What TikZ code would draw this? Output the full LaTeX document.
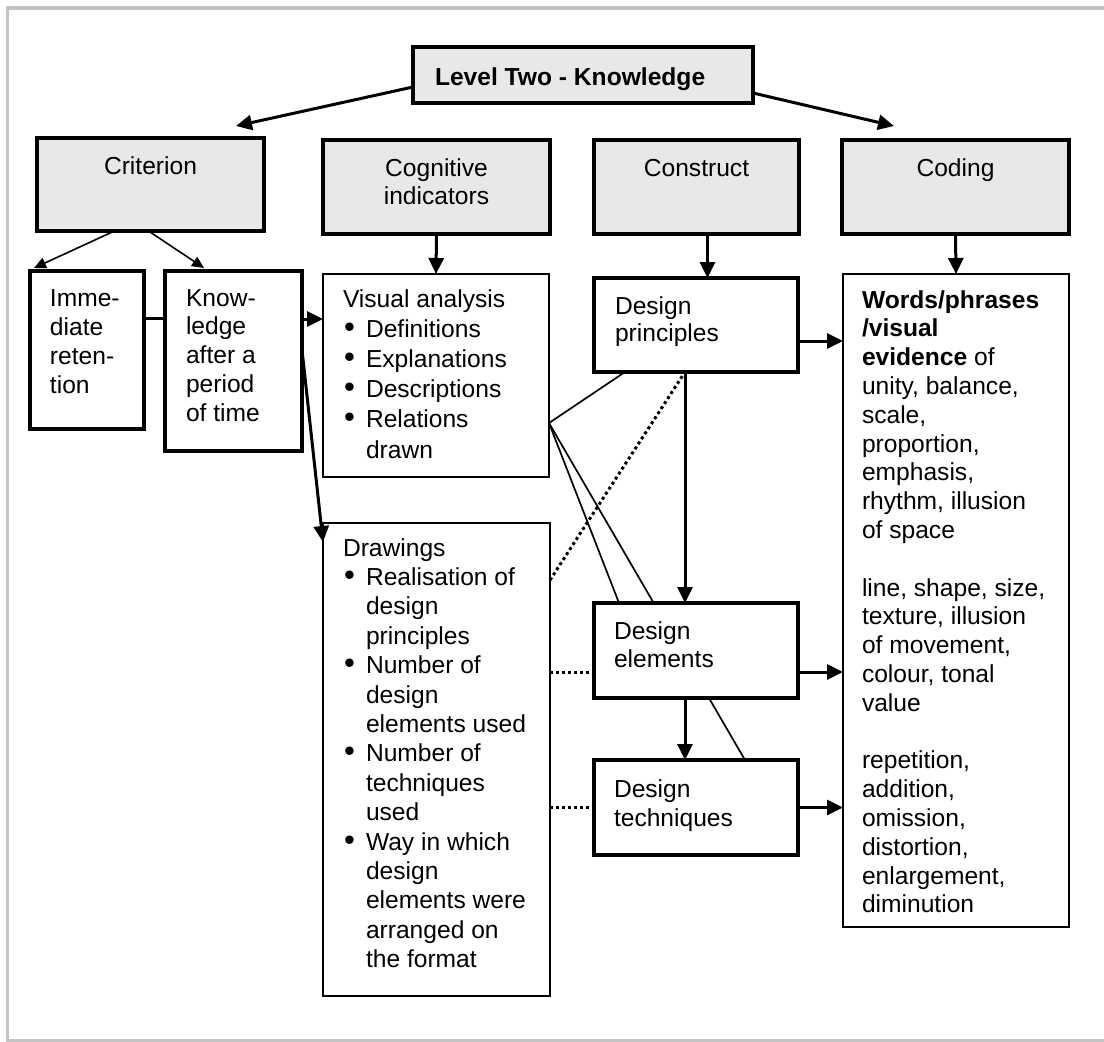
\documentclass[tikz,border=0pt]{standalone}
\usepackage{fontspec}
\setmainfont{Liberation Sans}
\usepackage{graphicx}
\usetikzlibrary{arrows.meta,backgrounds}
\definecolor{boxgray}{HTML}{E8E8E8}
\definecolor{framegray}{HTML}{C4C4C4}
% box content: width, height, baselineskip, top pad, alignment, text
\newcommand\bx[6]{\parbox[c][#2pt][t]{#1pt}{\fontsize{24.6pt}{#3pt}\selectfont #5\vspace*{#4pt}\strut #6}}
\newcommand\bul{\makebox[23pt][l]{\hspace{1pt}{\fontsize{31pt}{29pt}\selectfont\textbullet}}}
\newcommand\ind{\hspace*{23pt}}
\newcommand\lft[1]{\raggedright\leftskip=#1pt\relax}
\tikzset{
  thickbox/.style={draw, line width=3.3pt, inner sep=0pt, outer sep=0pt, fill=white, anchor=north west},
  thinbox/.style={draw, line width=1.8pt, inner sep=0pt, outer sep=0pt, fill=white, anchor=north west},
  graybox/.style={thickbox, fill=boxgray},
  bigarrow/.style={line width=3pt, -{Triangle[length=16pt,width=15pt]}},
  smallarrow/.style={line width=1.6pt, -{Triangle[length=12pt,width=11pt]}},
  thinline/.style={line width=1.7pt},
  thickline/.style={line width=3pt},
  dotline/.style={line width=3pt, dash pattern=on 3pt off 3pt},
}
\begin{document}
\begin{tikzpicture}[x=1pt,y=-1pt]
\useasboundingbox (0,0) rectangle (1104,1042);
\draw[framegray, line width=3.5pt] (1104,8) -- (7.5,8) -- (7.5,1041) -- (1104,1041);

% top level
\node[graybox] (top) at (413,47) {\bx{340}{56}{29.2}{17.56}{\lft{22}}{\textbf{Level Two - Knowledge}}};

% second row
\node[graybox] (crit) at (37,138) {\bx{227}{93}{28}{16.4}{\centering}{Criterion}};
\node[graybox] (cog) at (323,140) {\bx{227}{94}{28}{16.4}{\centering}{Cognitive\\indicators}};
\node[graybox] (cons) at (594,140) {\bx{205}{94}{28}{16.4}{\centering}{Construct}};
\node[graybox] (coding) at (842,140) {\bx{227}{94}{28}{16.4}{\centering}{Coding}};

% criterion children
\node[thickbox] (imme) at (30,271) {\bx{114}{158}{29}{14.7}{\lft{20}}{Imme-\\diate\\reten-\\tion}};
\node[thickbox] (know) at (165,271) {\bx{137}{180}{28.8}{14.84}{\lft{21}}{Know-\\ledge\\after a\\period\\of time}};

% cognitive indicators
\node[thinbox] (visual) at (323,274) {\bx{226}{203}{30.2}{11.86}{\lft{20}}{Visual analysis\\
\bul Definitions\\
\bul Explanations\\
\bul Descriptions\\
\bul Relations\\
\ind drawn}};
\node[thinbox] (drawings) at (323,523) {\bx{227}{473}{29.4}{12.42}{\lft{20}}{Drawings\\
\bul Realisation of\\
\ind design\\
\ind principles\\
\bul Number of\\
\ind design\\
\ind elements used\\
\bul Number of\\
\ind techniques\\
\ind used\\
\bul Way in which\\
\ind design\\
\ind elements were\\
\ind arranged on\\
\ind the format}};

% construct
\node[thickbox] (dp) at (594,278) {\bx{204}{94}{27}{17.1}{\lft{21}}{Design\\principles}};
\node[thickbox] (de) at (594,603) {\bx{204}{95}{28}{16.4}{\lft{20}}{Design\\elements}};
\node[thickbox] (dt) at (594,760) {\bx{204}{95}{29}{16.7}{\lft{20}}{Design\\techniques}};

% coding
\node[thinbox] (codetext) at (843,274) {\bx{226}{653}{28.8}{13.84}{\lft{19}}{\textbf{Words/phrases}\\
\textbf{/visual}\\
\textbf{evidence} of\\
unity, balance,\\
scale,\\
proportion,\\
emphasis,\\
rhythm, illusion\\
of space\\[\baselineskip]
line, shape, size,\\
texture, illusion\\
of movement,\\
colour, tonal\\
value\\[\baselineskip]
repetition,\\
addition,\\
omission,\\
distortion,\\
enlargement,\\
diminution}};

% free ends of the top arrows
\coordinate (critin) at (236,126);
\coordinate (codin) at (894,126);
\draw[bigarrow] ([yshift=-12pt]top.west) -- (critin);
\draw[bigarrow] ([yshift=-18pt]top.east) -- (codin);

% criterion
\draw[smallarrow] ([xshift=-36pt]crit.south) -- ([shift={(4pt,3pt)}]imme.north west);
\draw[smallarrow] ([xshift=-2pt]crit.south) -- ([shift={(39pt,3pt)}]know.north west);
\coordinate (j1) at ([yshift=32pt]imme.east);
\draw[thickline] (j1) -- (j1 -| know.west);
\coordinate (k1) at ([yshift=42pt]know.east);
\draw[bigarrow] (k1) -- (k1 -| visual.west);
\draw[bigarrow] ([yshift=11pt]know.east) -- ([yshift=-19pt]drawings.north west);

% vertical arrows from the headers
\draw[bigarrow] (cog.south) -- (visual.north);
\coordinate (c1) at ([xshift=11pt]cons.south);
\draw[bigarrow] (c1) -- (c1 |- dp.north);
\draw[bigarrow] (coding.south) -- (codetext.north);

% construct chain
\coordinate (d1) at ([yshift=-16pt]dp.east);
\draw[bigarrow] (d1) -- (d1 -| codetext.west);
\coordinate (d2) at ([xshift=-11pt]dp.south);
\draw[bigarrow] (d2) -- (d2 |- de.north);
\coordinate (d3) at ([xshift=-11pt]de.south);
\draw[bigarrow] (d3) -- (d3 |- dt.north);
\coordinate (e1) at ([yshift=-21.5pt]de.east);
\draw[bigarrow] (e1) -- (e1 -| codetext.west);
\draw[bigarrow] (dt.east) -- (dt.east -| codetext.west);

% dotted links from drawings
\coordinate (e2) at ([yshift=-21.5pt]de.west);
\draw[dotline] (e2 -| drawings.east) -- (e2);
\draw[dotline] (dt.west -| drawings.east) -- (dt.west);
\draw[dotline] ([yshift=-57pt]drawings.north east) -- (d2);

% thin links from visual analysis
\coordinate (v1) at ([yshift=-47.5pt]visual.east);
\draw[thinline] (v1) -- ([xshift=31pt]dp.south west);
\draw[thinline] (v1) -- ([xshift=25pt]de.north west);
\begin{scope}[on background layer]
\draw[thinline] (v1) -- ([xshift=151pt]dt.north west);
\end{scope}
\end{tikzpicture}
\end{document}
